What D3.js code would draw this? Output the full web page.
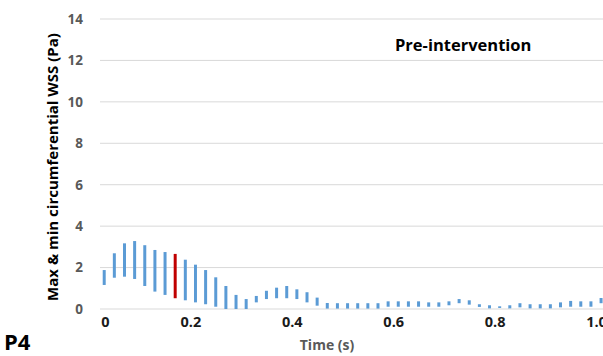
<!DOCTYPE html>
<html>
<head>
<meta charset="utf-8">
<script src="https://cdn.jsdelivr.net/npm/d3@7"></script>
<style>
  html, body { margin: 0; padding: 0; background: #fff; }
  svg { display: block; font-family: "Open Sans", Lato, sans-serif; }
</style>
</head>
<body>
<svg id="chart" width="603" height="356"></svg>
<script>
// Sample times (s) of each max/min WSS pair
const times = [0.03, 0.05, 0.07, 0.09, 0.11, 0.13, 0.15, 0.17, 0.19, 0.21,
               0.23, 0.25, 0.27, 0.29, 0.31, 0.33, 0.35, 0.37, 0.39, 0.41,
               0.43, 0.45, 0.47, 0.49, 0.51, 0.53, 0.55, 0.57, 0.59, 0.61,
               0.63, 0.65, 0.67, 0.69, 0.71, 0.73, 0.75, 0.77, 0.79, 0.81,
               0.83, 0.85, 0.87, 0.89, 0.91, 0.93, 0.95, 0.97, 0.99, 1.01];
// Maximum circumferential WSS (Pa)
const maxWSS = [1.88, 2.69, 3.17, 3.28, 3.08, 2.85, 2.75, 2.66, 2.38, 2.14,
                1.88, 1.53, 1.11, 0.68, 0.48, 0.63, 0.88, 1.03, 1.11, 0.95,
                0.81, 0.55, 0.29, 0.28, 0.28, 0.28, 0.28, 0.28, 0.37, 0.37,
                0.37, 0.37, 0.32, 0.32, 0.37, 0.48, 0.42, 0.23, 0.18, 0.13,
                0.18, 0.28, 0.23, 0.23, 0.23, 0.32, 0.39, 0.37, 0.37, 0.53];
// Minimum circumferential WSS (Pa)
const minWSS = [1.16, 1.51, 1.56, 1.45, 1.11, 0.84, 0.68, 0.52, 0.42, 0.32,
                0.23, 0.11, 0.00, 0.00, 0.00, 0.32, 0.48, 0.52, 0.52, 0.48,
                0.32, 0.16, 0.02, 0.02, 0.02, 0.02, 0.02, 0.02, 0.11, 0.11,
                0.11, 0.11, 0.11, 0.11, 0.18, 0.28, 0.21, 0.10, 0.03, 0.05,
                0.03, 0.08, 0.03, 0.03, 0.03, 0.08, 0.11, 0.11, 0.11, 0.28];
// Time step highlighted in red
const highlightTime = 0.17;
const yTicks = [0, 2, 4, 6, 8, 10, 12, 14];
const xTicks = [0, 0.2, 0.4, 0.6, 0.8, 1.0];

const svg = d3.select("#chart");
const plotLeft = 100, plotRight = 603, plotTop = 19, plotBottom = 309;
const font = "'Open Sans', Lato, sans-serif";

const x = d3.scaleLinear().domain([0, 1]).range([89, 596]);
const y = d3.scaleLinear().domain([0, 14]).range([plotBottom, plotTop]);

// Horizontal gridlines
svg.append("g")
  .selectAll("line")
  .data(yTicks.filter(d => d > 0))
  .join("line")
  .attr("x1", plotLeft).attr("x2", plotRight)
  .attr("y1", d => y(d)).attr("y2", d => y(d))
  .attr("stroke", "#d9d9d9").attr("stroke-width", 1);

// Y axis labels
const yAxis = svg.append("g")
  .attr("transform", `translate(${plotLeft},0)`)
  .call(d3.axisLeft(y).tickValues(yTicks).tickFormat(d3.format("d")).tickSize(0).tickPadding(17));
yAxis.select(".domain").remove();
yAxis.selectAll("text")
  .attr("fill", "#595959").attr("font-size", 13.5).attr("font-weight", 700)
  .attr("font-family", font);

// X axis (baseline + labels)
const xAxis = svg.append("g")
  .attr("transform", `translate(0,${plotBottom})`)
  .call(d3.axisBottom(x).tickValues(xTicks).tickFormat(d => d === 0 ? "0" : d3.format(".1f")(d)).tickSize(0).tickPadding(8));
xAxis.select(".domain").remove();
xAxis.append("line")
  .attr("x1", plotLeft).attr("x2", plotRight)
  .attr("stroke", "#d9d9d9").attr("stroke-width", 1);
xAxis.selectAll(".tick text")
  .attr("fill", "#1a1a1a").attr("font-size", 14.5).attr("font-weight", 700)
  .attr("font-family", font)
  .attr("dx", d => d === 0 ? 16 : 0);

// Max-min range bars
svg.append("g")
  .selectAll("line")
  .data(times.map((t, i) => ({ t, hi: maxWSS[i], lo: minWSS[i] })))
  .join("line")
  .attr("x1", d => x(d.t)).attr("x2", d => x(d.t))
  .attr("y1", d => y(d.hi)).attr("y2", d => y(d.lo))
  .attr("stroke", d => Math.abs(d.t - highlightTime) < 1e-9 ? "#c00000" : "#5b9bd5")
  .attr("stroke-width", 3);

// Axis titles and annotations
svg.append("text")
  .attr("transform", `translate(58,167) rotate(-90)`)
  .attr("text-anchor", "middle")
  .attr("font-size", 15).attr("font-weight", 700).attr("fill", "#000")
  .attr("font-family", font)
  .text("Max & min circumferential WSS (Pa)");

svg.append("text")
  .attr("x", 327).attr("y", 350)
  .attr("text-anchor", "middle")
  .attr("font-size", 14).attr("font-weight", 700).attr("fill", "#595959")
  .attr("font-family", font)
  .text("Time (s)");

svg.append("text")
  .attr("x", 395).attr("y", 51)
  .attr("font-size", 16.5).attr("font-weight", 700).attr("fill", "#000")
  .attr("font-family", font)
  .text("Pre-intervention");

svg.append("text")
  .attr("x", 4).attr("y", 350)
  .attr("font-size", 22).attr("font-weight", 700).attr("fill", "#000")
  .attr("font-family", font)
  .text("P4");
</script>
</body>
</html>
